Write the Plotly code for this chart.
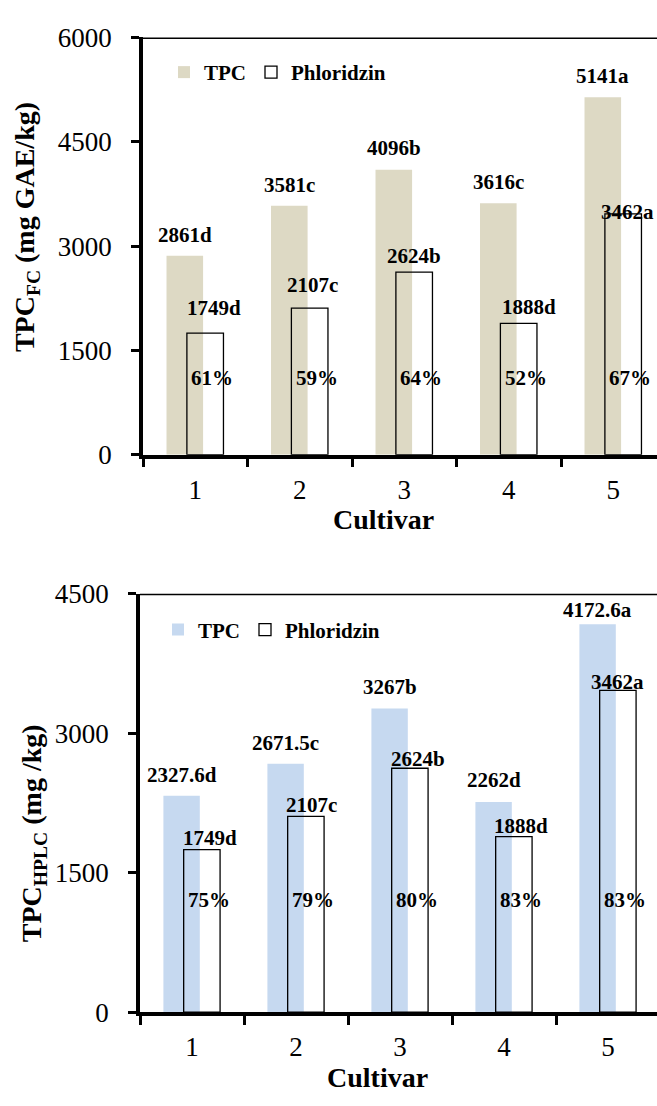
import plotly.graph_objects as go

# ---------------- data ----------------
cultivars = [1, 2, 3, 4, 5]
cultivar_labels = ["1", "2", "3", "4", "5"]

tpc_fc = [2861, 3581, 4096, 3616, 5141]
tpc_fc_letters = ["d", "c", "b", "c", "a"]

tpc_hplc = [2327.6, 2671.5, 3267, 2262, 4172.6]
tpc_hplc_letters = ["d", "c", "b", "d", "a"]

phloridzin = [1749, 2107, 2624, 1888, 3462]
phloridzin_letters = ["d", "c", "b", "d", "a"]

share_fc = [61, 59, 64, 52, 67]        # phloridzin share of TPC_FC (%)
share_hplc = [75, 79, 80, 83, 83]      # phloridzin share of TPC_HPLC (%)

yticks_fc = [0, 1500, 3000, 4500, 6000]
yticks_hplc = [0, 1500, 3000, 4500]

# ---------------- style ----------------
W, H = 657, 1106
FONT = "Liberation Serif"
TPC_FC_COLOR = "#DDD9C4"
TPC_HPLC_COLOR = "#C6D9F0"
TPC_OFF, PHL_OFF, BAR_W = -0.275, -0.08, 0.35

# label pixel shifts (style only)
fc_tpc_dy = [21, 21, 22, 21, 21]
fc_phl_dy = [25, 23, 16, 16, 2]
fc_phl_dx = [9, 3, 0, 10, 4]
hplc_tpc_dy = [21, 21, 21, 22, 14]
hplc_phl_dy = [12, 11, 9, 11, 8]
hplc_phl_dx = [8, 6, 8, 7, 0]
pct_level_fc = 1105
pct_level_hplc = 1203


def fmt(v):
    return f"{v:g}"


def px(y):
    return 1 - y / H


fig = go.Figure()

panels = [
    dict(tpc=tpc_fc, let=tpc_fc_letters, share=share_fc, color=TPC_FC_COLOR,
         xa="x", ya="y", legend="legend", tdy=fc_tpc_dy, pdy=fc_phl_dy, pdx=fc_phl_dx,
         pct=pct_level_fc),
    dict(tpc=tpc_hplc, let=tpc_hplc_letters, share=share_hplc, color=TPC_HPLC_COLOR,
         xa="x2", ya="y2", legend="legend2", tdy=hplc_tpc_dy, pdy=hplc_phl_dy, pdx=hplc_phl_dx,
         pct=pct_level_hplc),
]

annotations = []
for p in panels:
    fig.add_trace(go.Bar(
        x=cultivars, y=p["tpc"], name="TPC", offset=TPC_OFF, width=BAR_W,
        marker=dict(color=p["color"], line=dict(width=0)),
        xaxis=p["xa"], yaxis=p["ya"], legend=p["legend"], hoverinfo="skip"))
    fig.add_trace(go.Bar(
        x=cultivars, y=phloridzin, name="Phloridzin", offset=PHL_OFF, width=BAR_W,
        marker=dict(color="rgba(0,0,0,0)", line=dict(color="black", width=1.3)),
        xaxis=p["xa"], yaxis=p["ya"], legend=p["legend"], hoverinfo="skip"))
    for i, c in enumerate(cultivars):
        annotations.append(dict(
            x=c + TPC_OFF + BAR_W / 2, y=p["tpc"][i], xref=p["xa"], yref=p["ya"],
            text=f"<b>{fmt(p['tpc'][i])}{p['let'][i]}</b>", showarrow=False,
            xanchor="center", yanchor="middle", yshift=p["tdy"][i],
            font=dict(family=FONT, size=21, color="black")))
        annotations.append(dict(
            x=c + PHL_OFF + BAR_W / 2, y=phloridzin[i], xref=p["xa"], yref=p["ya"],
            text=f"<b>{fmt(phloridzin[i])}{phloridzin_letters[i]}</b>", showarrow=False,
            xanchor="center", yanchor="middle", yshift=p["pdy"][i], xshift=p["pdx"][i],
            font=dict(family=FONT, size=21, color="black")))
        annotations.append(dict(
            x=c + PHL_OFF + BAR_W / 2, y=p["pct"], xref=p["xa"], yref=p["ya"],
            text=f"<b>{p['share'][i]}%</b>", showarrow=False, xshift=7,
            xanchor="center", yanchor="middle",
            font=dict(family=FONT, size=21, color="black")))

# axis titles
title_font = dict(family=FONT, size=28, color="black")
annotations += [
    dict(x=26 / W, y=px(218), xref="paper", yref="paper", textangle=-90,
         xanchor="center", yanchor="middle",
         text="<b>TPC<sub>FC</sub> (mg GAE/kg)</b>", showarrow=False, font=title_font),
    dict(x=33 / W, y=px(841), xref="paper", yref="paper", textangle=-90,
         xanchor="center", yanchor="middle",
         text="<b>TPC<sub>HPLC</sub> (mg /kg)</b>", showarrow=False, font=title_font),
    dict(x=383 / W, y=px(519), xref="paper", yref="paper",
         xanchor="center", yanchor="middle",
         text="<b>Cultivar</b>", showarrow=False, font=title_font),
    dict(x=377 / W, y=px(1092), xref="paper", yref="paper",
         xanchor="center", yanchor="middle",
         text="<b>Cultivar</b>", showarrow=False, font=title_font),
]


def xaxis(dom_left, rng_right):
    return dict(
        domain=[dom_left, 1], range=[0.5, rng_right], tickvals=cultivars,
        ticktext=cultivar_labels, ticks="", showgrid=False, zeroline=False,
        showline=True, linewidth=3.5, linecolor="black",
        tickfont=dict(family=FONT, size=27, color="black"), ticklabelstandoff=8,
        minor=dict(tickvals=[0.5, 1.5, 2.5, 3.5, 4.5], ticks="outside", ticklen=9,
                   tickwidth=3, tickcolor="black", showgrid=False),
    )


def yaxis(dom, top, ticks, anchor):
    return dict(
        domain=dom, range=[0, top], tickvals=ticks, ticks="outside", ticklen=8,
        tickwidth=3, tickcolor="black", showgrid=False, zeroline=False,
        showline=True, linewidth=3.5, linecolor="black", anchor=anchor,
        tickfont=dict(family=FONT, size=27, color="black"), ticklabelstandoff=14,
    )


legend_font = dict(family=FONT, size=21, color="black", weight="bold")
fig.update_layout(
    width=W, height=H, margin=dict(l=0, r=0, t=0, b=0),
    paper_bgcolor="white", plot_bgcolor="white", barmode="overlay",
    xaxis=xaxis(143 / W, 0.5 + 514 / 104.5),
    yaxis=yaxis([px(452), px(23)], 6000, yticks_fc, "x"),
    xaxis2=dict(xaxis(140 / W, 0.5 + 517 / 104), anchor="y2"),
    yaxis2=yaxis([px(1025), px(595)], 4500, yticks_hplc, "x2"),
    annotations=annotations,
    shapes=[
        dict(type="line", xref="x domain", yref="y", x0=0, x1=1, y0=6000, y1=6000,
             line=dict(color="black", width=3)),
        dict(type="line", xref="x2 domain", yref="y2", x0=0, x1=1, y0=4500, y1=4500,
             line=dict(color="black", width=3)),
    ],
    legend=dict(orientation="h", x=164 / W, y=px(38), xanchor="left", yanchor="top",
                font=legend_font, bgcolor="rgba(0,0,0,0)"),
    legend2=dict(orientation="h", x=158 / W, y=px(611), xanchor="left", yanchor="top",
                 font=legend_font, bgcolor="rgba(0,0,0,0)"),
    showlegend=True,
)

fig.write_html(
    "out.html",
    config={"displayModeBar": False},
    post_script="document.body.style.margin='0';document.body.style.overflow='hidden';"
                "document.documentElement.style.overflow='hidden';",
)
